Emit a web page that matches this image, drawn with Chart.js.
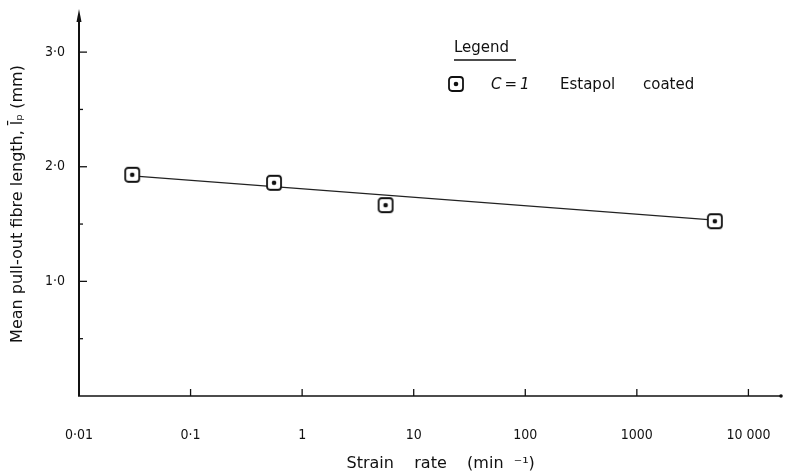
<!DOCTYPE html>
<html>
<head>
<meta charset="utf-8">
<script src="https://cdn.jsdelivr.net/npm/chart.js@4/dist/chart.umd.min.js"></script>
<style>
  html, body { margin: 0; padding: 0; background: #fff; }
</style>
</head>
<body>
<canvas id="myChart" width="787" height="474"></canvas>
<script>
// measured points (strain rate in min^-1, mean pull-out length in mm)
var strainRate = [0.03, 0.56, 5.6, 5000];
var pullOutLength = [1.93, 1.86, 1.665, 1.525];

// fitted straight line, end points
var fitRate = [0.03, 5000];
var fitLength = [1.92, 1.535];

// axis ticks
var xTicks = [0.01, 0.1, 1, 10, 100, 1000, 10000];
var xTickLabels = ['0·01', '0·1', '1', '10', '100', '1000', '10 000'];
var yTicks = [0.5, 1, 1.5, 2, 2.5, 3];
var yTickLabels = ['', '1·0', '', '2·0', '', '3·0'];

var FONT_N = '"DejaVu Sans Condensed", "DejaVu Sans", sans-serif';
var FONT = '"DejaVu Sans", sans-serif';
var INK = '#111';

// square marker with a dot in the middle
var mark = document.createElement('canvas');
mark.width = 18; mark.height = 18;
var m = mark.getContext('2d');
m.fillStyle = '#fff';
m.strokeStyle = INK;
m.lineWidth = 1.8;
m.beginPath();
if (m.roundRect) m.roundRect(2, 2, 14, 14, 3); else m.rect(2, 2, 14, 14);
m.fill();
m.stroke();
m.beginPath();
m.arc(9, 9, 2.3, 0, Math.PI * 2);
m.fillStyle = INK;
m.fill();

var axesPlugin = {
  id: 'axesPlugin',
  afterDraw: function(chart) {
    var ctx = chart.ctx;
    var ca = chart.chartArea;
    var xs = chart.scales.x, ys = chart.scales.y;
    ctx.save();
    ctx.strokeStyle = INK;
    ctx.fillStyle = INK;

    // y axis with arrow
    ctx.lineWidth = 2;
    ctx.beginPath();
    ctx.moveTo(ca.left, ca.bottom);
    ctx.lineTo(ca.left, ca.top + 6);
    ctx.stroke();
    ctx.beginPath();
    ctx.moveTo(ca.left, ca.top - 3);
    ctx.lineTo(ca.left - 2.5, ca.top + 10);
    ctx.lineTo(ca.left + 2.5, ca.top + 10);
    ctx.closePath();
    ctx.fill();

    // x axis with end dot
    ctx.lineWidth = 1.6;
    ctx.beginPath();
    ctx.moveTo(ca.left - 1, ca.bottom);
    ctx.lineTo(ca.right, ca.bottom);
    ctx.stroke();
    ctx.beginPath();
    ctx.arc(ca.right - 1, ca.bottom, 1.8, 0, Math.PI * 2);
    ctx.fill();

    // inward ticks
    ctx.lineWidth = 1.3;
    yTicks.forEach(function(v, i) {
      var py = ys.getPixelForValue(v);
      var len = yTickLabels[i] ? 8 : 4;
      ctx.beginPath();
      ctx.moveTo(ca.left, py);
      ctx.lineTo(ca.left + len, py);
      ctx.stroke();
    });
    xTicks.forEach(function(v, i) {
      if (i === 0) return;
      var px = xs.getPixelForValue(v);
      ctx.beginPath();
      ctx.moveTo(px, ca.bottom);
      ctx.lineTo(px, ca.bottom - 7);
      ctx.stroke();
    });

    // legend
    ctx.textBaseline = 'middle';
    ctx.textAlign = 'left';
    ctx.font = '15px ' + FONT;
    ctx.fillText('Legend', 454, 48);
    ctx.lineWidth = 1.3;
    ctx.beginPath();
    ctx.moveTo(454, 60);
    ctx.lineTo(516, 60);
    ctx.stroke();
    ctx.drawImage(mark, 456 - 9, 84 - 9);
    ctx.font = 'italic 15px ' + FONT;
    ctx.fillText('C\u2009=\u20091', 491, 85);
    ctx.font = '15px ' + FONT;
    ctx.fillText('Estapol', 560, 85);
    ctx.fillText('coated', 643, 85);
    ctx.restore();
  }
};

var chart = new Chart(document.getElementById('myChart').getContext('2d'), {
  type: 'scatter',
  data: {
    datasets: [{
      label: 'fit',
      data: fitRate.map(function(x, i) { return {x: x, y: fitLength[i]}; }),
      showLine: true,
      borderColor: '#222',
      borderWidth: 1.2,
      pointRadius: 0,
      order: 2
    }, {
      label: 'C = 1 Estapol coated',
      data: strainRate.map(function(x, i) { return {x: x, y: pullOutLength[i]}; }),
      pointStyle: mark,
      showLine: false,
      order: 1
    }]
  },
  options: {
    responsive: false,
    animation: false,
    devicePixelRatio: 1,
    layout: { padding: { top: 12, right: 1, left: 0, bottom: 0 } },
    plugins: { legend: { display: false }, tooltip: { enabled: false } },
    scales: {
      x: {
        type: 'logarithmic',
        min: 0.01,
        max: 20000,
        afterBuildTicks: function(s) { s.ticks = xTicks.map(function(v) { return {value: v}; }); },
        afterFit: function(s) { s.height = 78; s.paddingLeft = 0; s.paddingRight = 0; },
        grid: { display: false, drawTicks: false },
        border: { display: false },
        ticks: {
          autoSkip: false,
          maxRotation: 0,
          padding: 31,
          color: INK,
          font: { family: FONT_N, size: 14 },
          callback: function(v) { var i = xTicks.indexOf(v); return i < 0 ? '' : xTickLabels[i]; }
        },
        title: {
          display: true,
          text: '    Strain    rate    (min  ⁻¹)',
          color: INK,
          font: { family: FONT, size: 16 },
          padding: { top: 0, bottom: 1 }
        }
      },
      y: {
        min: 0,
        max: 3.35,
        afterBuildTicks: function(s) { s.ticks = yTicks.map(function(v) { return {value: v}; }); },
        afterFit: function(s) { s.width = 79; s.paddingTop = 0; s.paddingBottom = 0; },
        grid: { display: false, drawTicks: false },
        border: { display: false },
        ticks: {
          autoSkip: false,
          padding: 14,
          color: INK,
          font: { family: FONT_N, size: 14 },
          callback: function(v) { var i = yTicks.indexOf(v); return i < 0 ? '' : yTickLabels[i]; }
        },
        title: {
          display: true,
          text: 'Mean pull-out fibre length, l̄ₚ (mm)',
          color: INK,
          font: { family: FONT, size: 16 },
          padding: { top: 8, bottom: 0 }
        }
      }
    }
  },
  plugins: [axesPlugin]
});
</script>
</body>
</html>
